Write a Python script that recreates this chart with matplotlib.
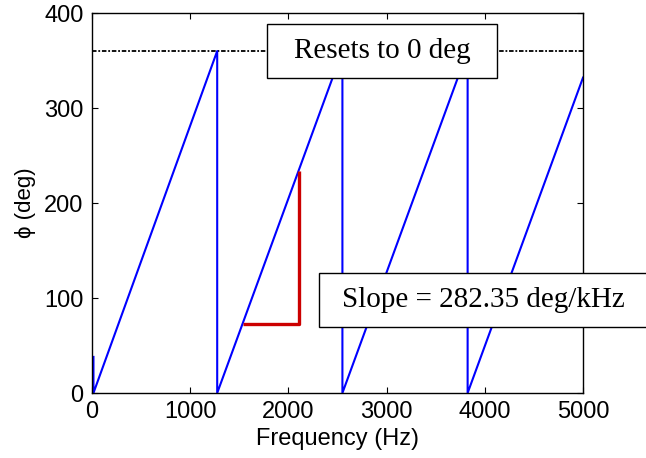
import matplotlib
matplotlib.use("Agg")
import matplotlib.pyplot as plt
from matplotlib.patches import Rectangle

# sawtooth phase response: vertices of the wrapped phase curve
freq_hz = [15, 15, 1275, 1275, 2550, 2550, 3825, 3825, 5000]
phase_deg = [38, 0, 360, 0, 360, 0, 360, 0, 332]

# slope triangle drawn against the second ramp
tri_x = [1541, 2105, 2105]
tri_y = [73, 73, 234]

reset_level = 360
xticks = [0, 1000, 2000, 3000, 4000, 5000]
yticks = [0, 100, 200, 300, 400]

plt.rcParams["font.family"] = ["Liberation Sans", "DejaVu Sans"]

fig = plt.figure(figsize=(6.46, 4.58), dpi=100)
ax = fig.add_axes([0.1424, 0.1419, 0.7601, 0.8297])

ax.axhline(reset_level, color="black", lw=1.3, ls=(0, (2.5, 1, 1, 1)))
ax.plot(freq_hz, phase_deg, color="#0000ff", lw=1.5)
ax.plot(tri_x, tri_y, color="#cc0000", lw=2.4, solid_capstyle="butt")

ax.set_xlim(0, 5000)
ax.set_ylim(0, 400)
ax.set_xticks(xticks)
ax.set_yticks(yticks)
ax.tick_params(direction="in", top=True, right=True, length=4, width=0.8,
               labelsize=17, pad=6)
for spine in ax.spines.values():
    spine.set_linewidth(1.0)

ax.set_xlabel("Frequency (Hz)", fontsize=17, labelpad=3)
ax.set_ylabel("\u03d5 (deg)", fontsize=16, labelpad=6)


def boxed_label(x0, x1, y0, y1, text):
    ax.add_patch(Rectangle((x0, y0), x1 - x0, y1 - y0, facecolor="white",
                           edgecolor="black", lw=1.0, zorder=5, clip_on=False))
    ax.text((x0 + x1) / 2, (y0 + y1) / 2, text, family="Liberation Serif",
            fontsize=21, ha="center", va="center", zorder=6, clip_on=False)


boxed_label(1785, 4127, 331.6, 388, "Resets to 0 deg")
boxed_label(2311, 5663, 69.8, 126, "Slope = 282.35 deg/kHz")

fig.savefig("out.png", dpi=100)
